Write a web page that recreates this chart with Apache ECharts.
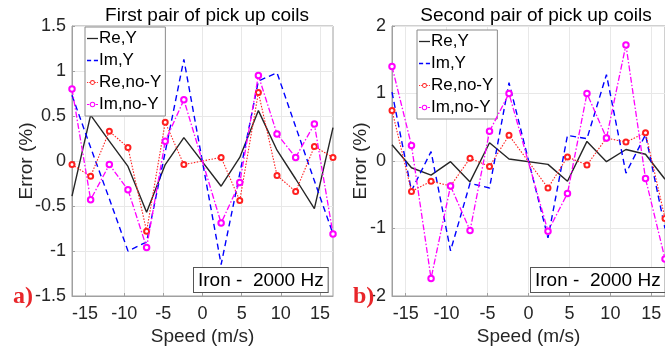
<!DOCTYPE html>
<html>
<head>
<meta charset="utf-8">
<script src="https://cdn.jsdelivr.net/npm/echarts@6/dist/echarts.min.js"></script>
<style>
html,body{margin:0;padding:0;background:#fff;}
#chart{width:665px;height:352px;}
</style>
</head>
<body>
<div id="chart"></div>
<script>
// Speeds (m/s)
const speeds = [-16.67, -14.29, -11.90, -9.52, -7.14, -4.76, -2.38, 2.38, 4.76, 7.14, 9.52, 11.90, 14.29, 16.67];
const seriesNames = ['Re,Y', 'Im,Y', 'Re,no-Y', 'Im,no-Y'];
const titles = ['First pair of pick up coils', 'Second pair of pick up coils'];
const xTicks = [-15, -10, -5, 0, 5, 10, 15];
const annotation = 'Iron -  2000 Hz';
const panelLabels = ['a)', 'b)'];

// Panel a) first pair of pick up coils (Error %)
const p1ReY   = [-0.39, 0.51, 0.22, -0.06, -0.57, -0.04, 0.26, -0.28, 0.04, 0.56, 0.12, -0.20, -0.53, 0.37];
const p1ImY   = [0.73, 0.15, -0.42, -1.00, -0.90, 0.10, 1.13, -1.15, -0.14, 0.89, 0.98, 0.38, -0.22, -0.81];
const p1ReNoY = [-0.04, -0.17, 0.33, 0.15, -0.78, 0.43, -0.04, 0.04, -0.44, 0.76, -0.16, -0.34, 0.16, 0.04];
const p1ImNoY = [0.80, -0.43, -0.04, -0.32, -0.96, 0.22, 0.68, -0.69, -0.24, 0.95, 0.30, 0.04, 0.41, -0.81];

// Panel b) second pair of pick up coils (Error %)
const p2ReY   = [0.24, -0.10, -0.21, -0.01, -0.31, 0.27, 0.03, -0.05, -0.30, 0.29, -0.01, 0.17, 0.10, -0.27];
const p2ImY   = [1.02, -0.44, 0.14, -1.33, -0.33, -0.40, 1.16, -1.14, 0.38, 0.33, 1.28, -0.18, 0.39, -1.00];
const p2ReNoY = [0.75, -0.45, -0.30, -0.37, 0.04, -0.08, 0.38, -0.40, 0.06, -0.06, 0.34, 0.28, 0.42, -0.85];
const p2ImNoY = [1.40, 0.23, -1.74, -0.37, -1.03, 0.44, 1.00, -1.04, -0.48, 1.00, 0.34, 1.72, -0.26, -1.45];

const panels = [[p1ReY, p1ImY, p1ReNoY, p1ImNoY], [p2ReY, p2ImY, p2ReNoY, p2ImNoY]];

const FONT = 'Liberation Sans';
const styles = [
  {color: '#262626', lineStyle: {width: 1.4, type: 'solid'}, symbol: 'none', symbolSize: 0},
  {color: '#0000ff', lineStyle: {width: 1.4, type: [6, 4]}, symbol: 'none', symbolSize: 0},
  {color: '#ff2020', lineStyle: {width: 1.1, type: [1.5, 1.5]}, symbol: 'emptyCircle', symbolSize: 5},
  {color: '#ff00ff', lineStyle: {width: 1.3, type: [6, 2, 1.5, 2]}, symbol: 'emptyCircle', symbolSize: 5.5}
];

// legend icons (line sample + marker), drawn in a 12x12 box
const ringOuter = r => `M${6 - r},6A${r},${r} 0 1 1 ${6 + r},6A${r},${r} 0 1 1 ${6 - r},6Z`;
const ringInner = r => `M${6 - r},6A${r},${r} 0 1 0 ${6 + r},6A${r},${r} 0 1 0 ${6 - r},6Z`;
const bar = (x0, x1, h) => `M${x0},${6 - h / 2}L${x1},${6 - h / 2}L${x1},${6 + h / 2}L${x0},${6 + h / 2}Z`;
const legendIcons = [
  'path://' + bar(0, 12, 1.4),
  'path://' + bar(0, 4.5, 1.4) + bar(7.5, 12, 1.4),
  'path://' + bar(0, 1, 1.1) + bar(2, 3, 1.1) + ringOuter(2.7) + ringInner(1.7) + bar(9, 10, 1.1) + bar(11, 12, 1.1),
  'path://' + bar(0, 2.5, 1.3) + ringOuter(3) + ringInner(1.9) + bar(9.5, 12, 1.3)
];

const grids = [
  {left: 72, top: 26, width: 261, height: 270},
  {left: 392, top: 26, width: 278, height: 270}
];
const yRanges = [{min: -1.5, max: 1.5, interval: 0.5}, {min: -2, max: 2, interval: 1}];
const yNameGaps = [36, 22];

const option = {
  animation: false,
  backgroundColor: '#fff',
  textStyle: {fontFamily: FONT},
  title: titles.map((t, i) => ({
    text: t,
    left: grids[i].left + (i === 0 ? 130 : 139),
    top: 1,
    textAlign: 'center',
    textStyle: {fontFamily: FONT, fontSize: 19, fontWeight: 'normal', color: '#000'}
  })),
  grid: grids.map(g => Object.assign({show: true, borderColor: '#a0a0a0', borderWidth: 1, backgroundColor: 'transparent'}, g)),
  legend: [
    {left: 85, top: 27},
    {left: 417, top: 30}
  ].map(p => ({
    left: p.left, top: p.top, orient: 'vertical',
    data: seriesNames.map((n, i) => ({
      name: n, icon: legendIcons[i],
      itemStyle: {color: styles[i].color, borderWidth: 0, opacity: 1}
    })),
    itemWidth: 11, itemHeight: 11, itemGap: 5,
    symbolKeepAspect: true,
    padding: [3, 4, 3, 2],
    backgroundColor: '#fff', borderColor: '#8a8a8a', borderWidth: 1,
    textStyle: {fontFamily: FONT, fontSize: 17, lineHeight: 16, color: '#000', padding: [0, 0, 0, -4]},
    selectedMode: false
  })),
  xAxis: grids.map((g, i) => ({
    type: 'value', gridIndex: i, min: -16.67, max: 16.67,
    name: 'Speed (m/s)', nameLocation: 'middle', nameGap: 31, nameMoveOverlap: false,
    nameTextStyle: {fontFamily: FONT, fontSize: 19, color: '#262626'},
    axisLine: {show: true, onZero: false, lineStyle: {color: '#a0a0a0'}},
    axisTick: {show: true, inside: true, length: 3, customValues: xTicks, lineStyle: {color: '#a0a0a0'}},
    axisLabel: {customValues: xTicks, fontFamily: FONT, fontSize: 18, color: '#262626', margin: 9},
    splitLine: {show: true, lineStyle: {color: '#e8e8e8', width: 1}}
  })),
  yAxis: grids.map((g, i) => ({
    type: 'value', gridIndex: i,
    min: yRanges[i].min, max: yRanges[i].max, interval: yRanges[i].interval,
    name: 'Error (%)', nameLocation: 'middle', nameGap: yNameGaps[i], nameMoveOverlap: false,
    nameTextStyle: {fontFamily: FONT, fontSize: 19, color: '#262626'},
    axisLine: {show: true, onZero: false, lineStyle: {color: '#a0a0a0'}},
    axisTick: {show: true, inside: true, length: 3, lineStyle: {color: '#a0a0a0'}},
    axisLabel: {fontFamily: FONT, fontSize: 18, color: '#262626', margin: 6},
    splitLine: {show: true, lineStyle: {color: '#e8e8e8', width: 1}}
  })),
  series: [],
  graphic: []
};

panels.forEach((arrs, pi) => {
  arrs.forEach((vals, si) => {
    const st = styles[si];
    option.series.push({
      type: 'line', name: seriesNames[si],
      xAxisIndex: pi, yAxisIndex: pi,
      data: speeds.map((s, k) => [s, vals[k]]),
      color: st.color,
      lineStyle: Object.assign({color: st.color}, st.lineStyle),
      symbol: st.symbol, symbolSize: st.symbolSize, showSymbol: st.symbol !== 'none',
      itemStyle: {color: st.color, borderWidth: 1.1},
      z: 2 + si, clip: true
    });
  });
});

// annotation boxes
[{x: 193, y: 267}, {x: 530, y: 267}].forEach(p => {
  option.graphic.push({
    type: 'text', left: p.x, top: p.y, z: 100,
    style: {
      text: annotation, font: '19px "' + FONT + '"', fill: '#000',
      backgroundColor: '#fff', borderColor: '#555', borderWidth: 1,
      padding: [3, 4, 2, 4]
    }
  });
});
// panel labels
[{x: 13, y: 285}, {x: 353, y: 285}].forEach((p, i) => {
  option.graphic.push({
    type: 'text', left: p.x, top: p.y, z: 100,
    style: {text: panelLabels[i], font: 'bold 24px "Liberation Serif"', fill: '#e8262a'}
  });
});

const chart = echarts.init(document.getElementById('chart'), null, {renderer: 'canvas'});
chart.setOption(option);
</script>
</body>
</html>
